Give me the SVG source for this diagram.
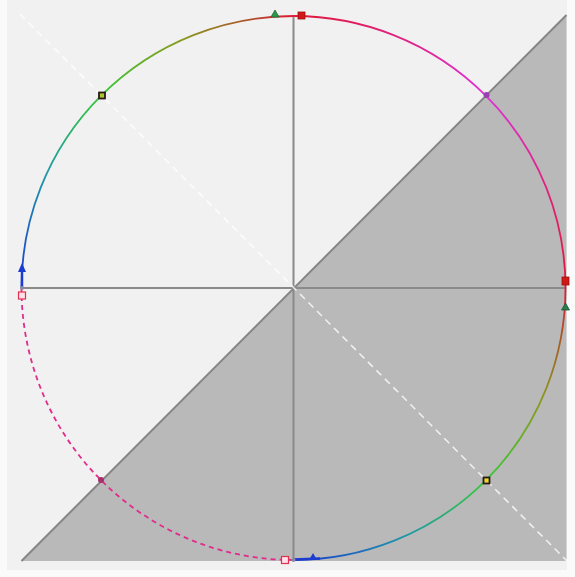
<svg xmlns="http://www.w3.org/2000/svg" width="575" height="577" viewBox="0 0 575 577">
<style>
.axis{stroke:#8a8a8a;stroke-width:2;fill:none}
.arc{fill:none;stroke-width:1.8}
</style>
<defs>
<linearGradient id="gUL" gradientUnits="userSpaceOnUse" x1="21.5" y1="288" x2="293.5" y2="16">
<stop offset="0" stop-color="#1c3cd0"/>
<stop offset="0.25" stop-color="#2098a8"/>
<stop offset="0.5" stop-color="#38c838"/>
<stop offset="0.75" stop-color="#8a9a20"/>
<stop offset="0.9" stop-color="#a85a28"/>
<stop offset="1" stop-color="#e01838"/>
</linearGradient>
<linearGradient id="gUR" gradientUnits="userSpaceOnUse" x1="293.5" y1="16" x2="565.5" y2="288">
<stop offset="0" stop-color="#e01838"/>
<stop offset="0.5" stop-color="#e030d8"/>
<stop offset="1" stop-color="#e01838"/>
</linearGradient>
<linearGradient id="gLR" gradientUnits="userSpaceOnUse" x1="565.5" y1="288" x2="293.5" y2="560">
<stop offset="0" stop-color="#e01838"/>
<stop offset="0.1" stop-color="#a85a28"/>
<stop offset="0.25" stop-color="#8a9a20"/>
<stop offset="0.5" stop-color="#38c838"/>
<stop offset="0.75" stop-color="#2098a8"/>
<stop offset="1" stop-color="#1c3cd0"/>
</linearGradient>
</defs>
<rect x="0" y="0" width="575" height="577" fill="#fafafa"/>
<rect x="7" y="0" width="560" height="570" fill="#f1f1f1"/>
<g id="region">
<polygon points="21.5,561 566.5,15 566.5,561" fill="#b9b9b9"/>
<line x1="21.5" y1="561" x2="566.5" y2="15" stroke="#858585" stroke-width="2"/>
</g>
<g id="axes">
<line class="axis" x1="21.5" y1="288" x2="566" y2="288"/>
<line class="axis" x1="293.5" y1="15" x2="293.5" y2="560"/>
<line x1="20" y1="14" x2="567" y2="561" stroke="#ffffff" stroke-width="1.5" stroke-dasharray="7,5" opacity="0.8"/>
</g>
<g id="connectors">
<path class="arc" stroke="url(#gUL)" d="M 21.5 288 A 272 272 0 0 1 293.5 16"/>
<path class="arc" stroke="url(#gUR)" d="M 293.5 16 A 272 272 0 0 1 565.5 288"/>
<path class="arc" stroke="url(#gLR)" d="M 565.5 288 A 272 272 0 0 1 293.5 560"/>
<path class="arc" stroke="#e02c8a" stroke-dasharray="5,4" d="M 293.5 560 A 272 272 0 0 1 21.5 288"/>
<line x1="22" y1="288" x2="22" y2="266" stroke="#1c3cd0" stroke-width="2.5"/>
<line x1="293.5" y1="559.5" x2="320" y2="558.5" stroke="#1c3cd0" stroke-width="2.5"/>
</g>
<g id="markers">
<g id="top">
<polygon points="275,10 279,17 271,17" fill="#2a9a4a" stroke="#1c6a3a" stroke-width="0.8"/>
<rect x="298" y="12" width="7" height="7" fill="#d01818" stroke="#a01010" stroke-width="0.8"/>
</g>
<g id="left">
<polygon points="22,263 26,272 18,272" fill="#1c3cd0"/>
<circle cx="22" cy="288" r="2" fill="#8a8aa0"/>
<rect x="18.5" y="292" width="7" height="7" fill="#fde0e8" stroke="#e03050" stroke-width="1.2"/>
</g>
<g id="right">
<rect x="562" y="277" width="7" height="8" fill="#d01818" stroke="#a01010" stroke-width="0.8"/>
<polygon points="565.5,303 569.5,310 561.5,310" fill="#2a7a4a" stroke="#1c5a3a" stroke-width="0.8"/>
</g>
<g id="bottom">
<rect x="281.5" y="556.5" width="7" height="7" fill="#fde0e8" stroke="#e03050" stroke-width="1.2"/>
<circle cx="293.5" cy="560" r="2" fill="#8a8aa0"/>
<polygon points="313,553 317,560 309,560" fill="#1c3cd0"/>
</g>
<g id="diag">
<rect x="99" y="92.5" width="6" height="6" fill="#a8c830" stroke="#2a1a1a" stroke-width="1.8"/>
<circle cx="486.5" cy="95" r="3" fill="#9a40b0"/>
<rect x="483.5" y="477.5" width="6" height="6" fill="#e8d830" stroke="#2a1a1a" stroke-width="1.8"/>
<circle cx="101" cy="480" r="3" fill="#a8306a"/>
</g>
</g>
</svg>
